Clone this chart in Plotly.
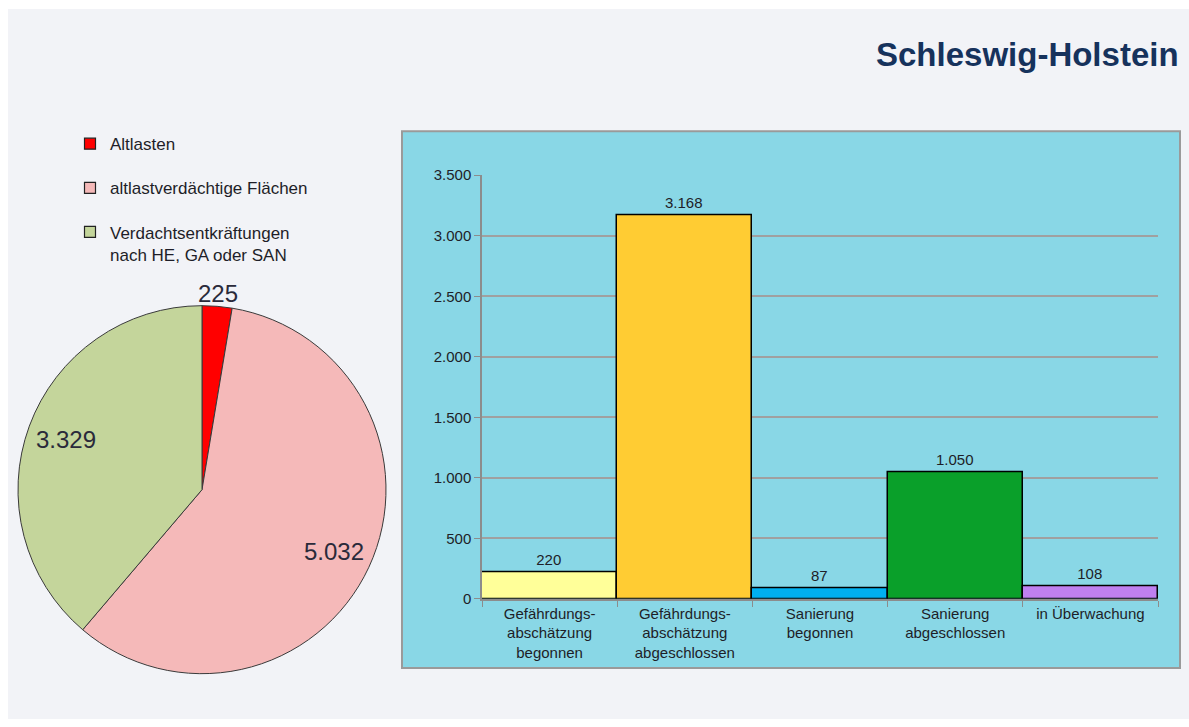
import math
import plotly.graph_objects as go

W, H = 1189, 727

# ---- data ----
pie_labels = ["Altlasten", "altlastverdächtige Flächen", "Verdachtsentkräftungen<br>nach HE, GA oder SAN"]
pie_values = [225, 5032, 3329]
pie_colors = ["#FF0000", "#F5B9B9", "#C4D59B"]

bar_categories = [
    "Gefährdungs-<br>abschätzung<br>begonnen",
    "Gefährdungs-<br>abschätzung<br>abgeschlossen",
    "Sanierung<br>begonnen",
    "Sanierung<br>abgeschlossen",
    "in Überwachung",
]
bar_values = [220, 3168, 87, 1050, 108]
bar_colors = ["#FFFF99", "#FFCC33", "#00B0F0", "#0AA02A", "#BF80F0"]

title_text = "Schleswig-Holstein"

FONT = "Liberation Sans, Arial, sans-serif"
TXT = "#1E1E28"

# the page shows the figure 9px down with an effective height of 709px
Y_OFF, H_EFF = 9, 709

def px_x(p):
    return p / W

def px_y(p):
    return 1 - (p - Y_OFF) / H_EFF

fig = go.Figure()

# pie geometry (screen pixels)
cx, cy, R = 202, 489, 184
fig.add_trace(go.Pie(
    labels=pie_labels, values=pie_values, sort=False, direction="clockwise", rotation=0,
    marker=dict(colors=pie_colors, line=dict(color="#3A3A3A", width=1)),
    textinfo="none", hoverinfo="label+value", showlegend=False,
    domain=dict(x=[px_x(cx - R), px_x(cx + R)], y=[px_y(cy + R), px_y(cy - R)]),
))

# bar chart
fig.add_trace(go.Bar(
    x=bar_categories, y=bar_values, width=1,
    marker=dict(color=bar_colors, line=dict(color="#000000", width=1.5)),
    texttemplate="%{y:,d}", textposition="outside", cliponaxis=False,
    textfont=dict(size=15, color=TXT, family=FONT),
    showlegend=False,
))

# legend entries (legend-only traces)
for i, (lab, col) in enumerate(zip(pie_labels, pie_colors)):
    fig.add_trace(go.Scatter(
        x=[None], y=[None], mode="markers", name=lab, legendgroup=f"g{i}",
        marker=dict(symbol="square", size=11, color=col, line=dict(color="#222222", width=1.2)),
    ))

# pie value labels placed by slice angle
total = sum(pie_values)
ann = []
start = 90.0
for v in pie_values:
    sweep = 360.0 * v / total
    mid = start - sweep / 2
    start -= sweep
    rf = 1.07 if v / total < 0.05 else 0.79
    lx = cx + rf * R * math.cos(math.radians(mid))
    ly = cy - rf * R * math.sin(math.radians(mid))
    ann.append(dict(x=px_x(lx), y=px_y(ly), xref="paper", yref="paper", showarrow=False,
                    text=f"{v:,}".replace(",", "."), font=dict(size=24, color="#2A2A3A", family=FONT),
                    xanchor="center", yanchor="middle"))

ann.append(dict(x=px_x(1181), y=px_y(54), xref="paper", yref="paper", showarrow=False,
                text=f"<b>{title_text}</b>", xanchor="right", yanchor="middle",
                font=dict(size=33, color="#16325C", family=FONT)))

shapes = [
    dict(type="rect", xref="paper", yref="paper", x0=px_x(8), x1=1, y0=0, y1=1,
         fillcolor="#F2F3F7", line=dict(width=0), layer="below"),
    dict(type="rect", xref="paper", yref="paper", x0=px_x(402), x1=px_x(1180), y0=px_y(667), y1=px_y(131),
         fillcolor="#89D7E6", line=dict(color="#9A9A9A", width=2), layer="below"),
]

fig.update_layout(
    width=W, height=H, autosize=False,
    margin=dict(l=0, r=0, t=0, b=0),
    paper_bgcolor="#FFFFFF", plot_bgcolor="#F2F2F2",
    separators=",.",
    font=dict(family=FONT, color=TXT, size=15),
    shapes=shapes, annotations=ann,
    bargap=0,
    showlegend=True,
    legend=dict(x=px_x(70), y=px_y(126), xanchor="left", yanchor="top",
                bgcolor="rgba(0,0,0,0)", font=dict(size=17, color=TXT, family=FONT),
                tracegroupgap=19, valign="top", itemclick=False),
    xaxis=dict(domain=[px_x(482), px_x(1158)], type="category", showgrid=False,
               ticks="outside", tickson="boundaries", ticklen=6, tickcolor="#8C8C8C",
               showline=True, linecolor="#8C8C8C", linewidth=1.5,
               tickfont=dict(size=15, color=TXT, family=FONT), fixedrange=True),
    yaxis=dict(domain=[px_y(598), px_y(175)], range=[0, 3500], dtick=500, tickformat=",d",
               showgrid=True, gridcolor="#A0A0A0", gridwidth=1.5,
               ticks="outside", ticklen=6, tickcolor="#8C8C8C",
               showline=True, linecolor="#8C8C8C", linewidth=1.5, zeroline=False,
               tickfont=dict(size=15, color=TXT, family=FONT), fixedrange=True),
)

fig.write_html("out.html")
